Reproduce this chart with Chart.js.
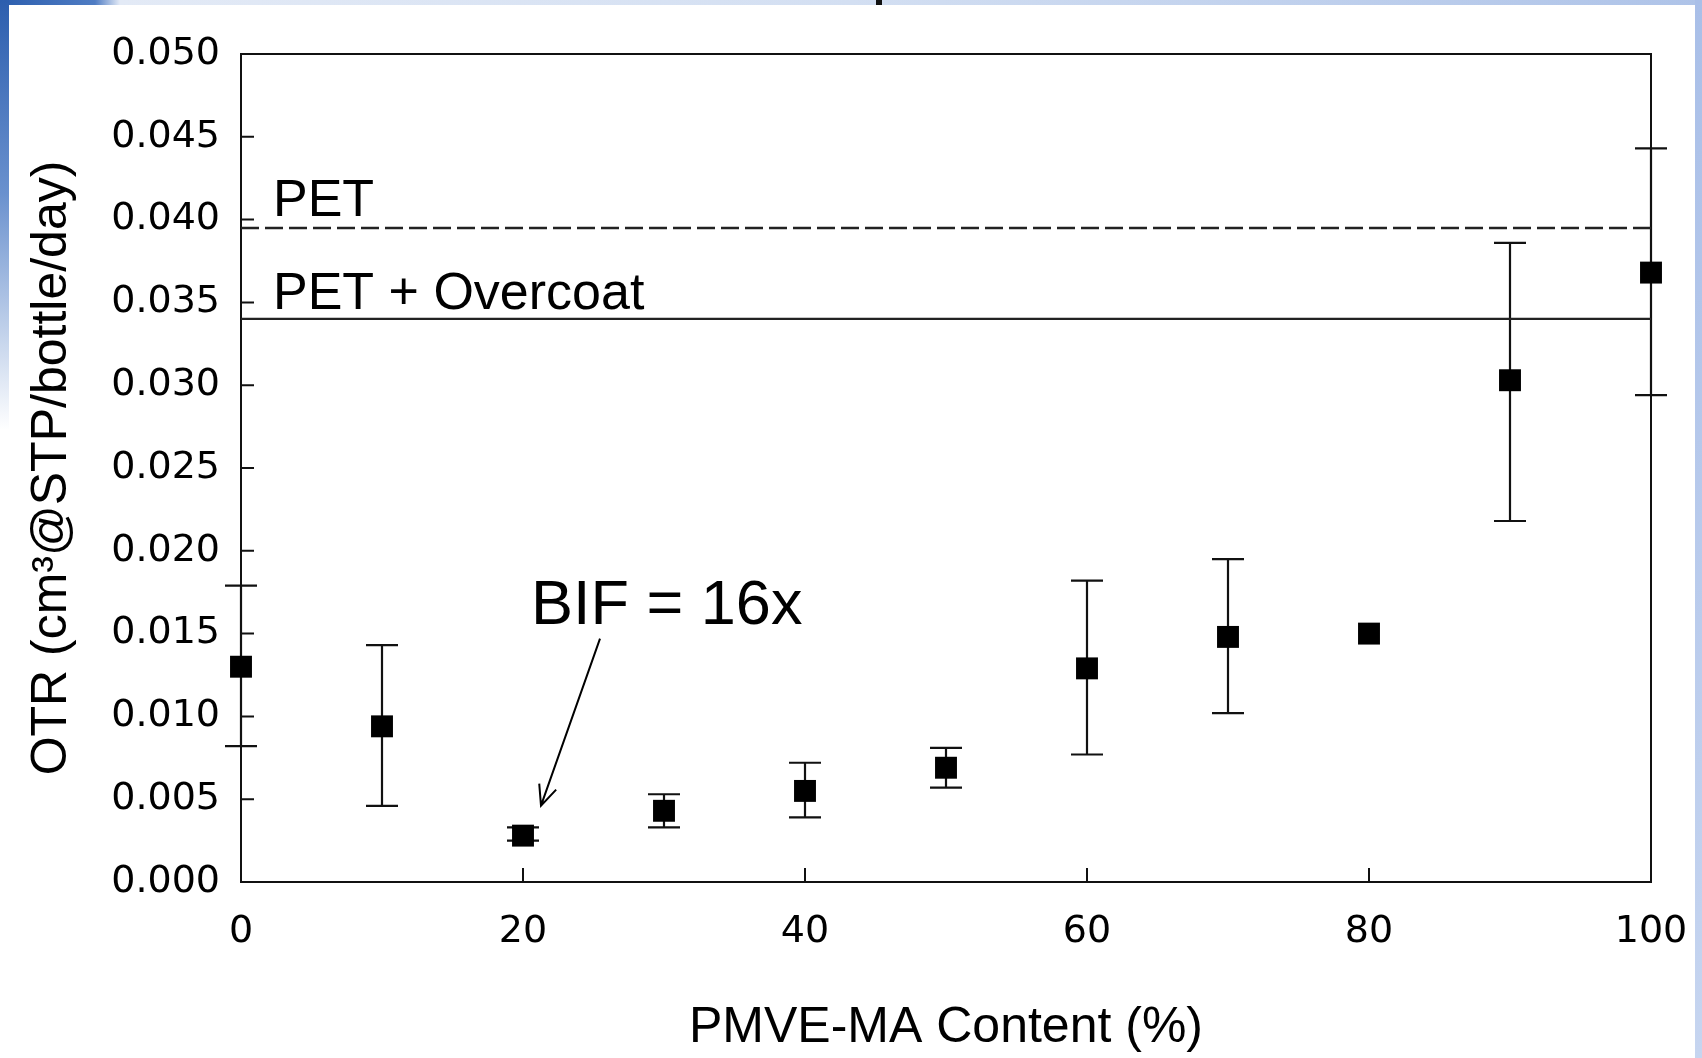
<!DOCTYPE html>
<html><head><meta charset="utf-8">
<script src="https://cdn.jsdelivr.net/npm/chart.js@4.4.0/dist/chart.umd.min.js"></script>
<style>
html,body{margin:0;padding:0;width:1702px;height:1058px;overflow:hidden;background:#fff;}
#wrap{position:absolute;left:0;top:0;width:1702px;height:1058px;}
.deco{position:absolute;}
</style></head><body>
<div class="deco" style="left:0;top:0;width:1702px;height:5px;background:linear-gradient(90deg,#2c5eae 0,#4f7cc3 95px,#e3eaf6 120px,#d3dff2 50%,#aec3e8 100%)"></div>
<div class="deco" style="left:0;top:0;width:9px;height:430px;background:linear-gradient(180deg,#2c5eae 0,#6a91ce 45%,rgba(255,255,255,0) 100%)"></div>
<div class="deco" style="left:1695px;top:0;width:7px;height:1058px;background:linear-gradient(180deg,#a9bfe8,#c6d5f0)"></div>
<div class="deco" style="left:876px;top:0;width:6px;height:5px;background:#111"></div>
<div id="wrap"><canvas id="c" width="1702" height="1058"></canvas></div>
<script>
// ---- data ----
const contentPct = [0, 10, 20, 30, 40, 50, 60, 70, 80, 90, 100];
const otrMean    = [0.0130, 0.0094, 0.0028, 0.0043, 0.0055, 0.0069, 0.0129, 0.0148, 0.0150, 0.0303, 0.0368];
const otrUpper   = [0.0179, 0.0143, 0.0033, 0.0053, 0.0072, 0.0081, 0.0182, 0.0195, null, 0.0386, 0.0443];
const otrLower   = [0.0082, 0.0046, 0.0025, 0.0033, 0.0039, 0.0057, 0.0077, 0.0102, null, 0.0218, 0.0294];
const petLevel = 0.0395;
const petOvercoatLevel = 0.0340;
const petLabel = 'PET';
const petOvercoatLabel = 'PET + Overcoat';
const bifLabel = 'BIF = 16x';
const bifIndex = 2;
const xTitle = 'PMVE-MA Content (%)';
const yTitle = 'OTR (cm\u00B3@STP/bottle/day)';
const xMin = 0, xMax = 100, xStep = 20;
const yMin = 0, yMax = 0.05, yStep = 0.005;

const INK = '#111';
const CAP = 16;

const frameAndTicks = {
  id: 'frameAndTicks',
  beforeDatasetsDraw(chart) {
    const {ctx, chartArea: a, scales: {x, y}} = chart;
    ctx.save();
    ctx.strokeStyle = INK;
    ctx.lineWidth = 2;
    ctx.strokeRect(a.left, a.top, a.right - a.left, a.bottom - a.top);
    ctx.beginPath();
    y.ticks.forEach(t => {
      const py = y.getPixelForValue(t.value);
      ctx.moveTo(a.left, py); ctx.lineTo(a.left + 13, py);
    });
    x.ticks.forEach(t => {
      const px = x.getPixelForValue(t.value);
      ctx.moveTo(px, a.bottom); ctx.lineTo(px, a.bottom - 14);
    });
    ctx.stroke();
    // error bars
    ctx.lineWidth = 2.2;
    ctx.beginPath();
    contentPct.forEach((c, i) => {
      if (otrUpper[i] == null) return;
      const px = x.getPixelForValue(c);
      const yt = y.getPixelForValue(otrUpper[i]);
      const yb = y.getPixelForValue(otrLower[i]);
      ctx.moveTo(px, yt); ctx.lineTo(px, yb);
      ctx.moveTo(px - CAP, yt); ctx.lineTo(px + CAP, yt);
      ctx.moveTo(px - CAP, yb); ctx.lineTo(px + CAP, yb);
    });
    ctx.stroke();
    ctx.restore();
  }
};

const annotations = {
  id: 'annotations',
  afterDraw(chart) {
    const {ctx, chartArea: a, scales: {x, y}} = chart;
    ctx.save();
    ctx.fillStyle = '#000';
    ctx.textAlign = 'left';
    ctx.textBaseline = 'alphabetic';
    ctx.font = '52px "Liberation Sans", Arial, sans-serif';
    ctx.fillText(petLabel, a.left + 32, y.getPixelForValue(petLevel) - 12);
    ctx.fillText(petOvercoatLabel, a.left + 32, y.getPixelForValue(petOvercoatLevel) - 10);
    // BIF label + arrow
    const px = x.getPixelForValue(contentPct[bifIndex]);
    const py = y.getPixelForValue(otrMean[bifIndex]);
    ctx.font = '63px "Liberation Sans", Arial, sans-serif';
    ctx.fillText(bifLabel, px + 8, py - 212);
    const tipX = px + 18, tipY = py - 30;
    const startX = px + 77, startY = py - 197;
    ctx.strokeStyle = '#000';
    ctx.lineWidth = 2;
    ctx.beginPath();
    ctx.moveTo(startX, startY); ctx.lineTo(tipX, tipY);
    const ang = Math.atan2(startY - tipY, startX - tipX);
    const len = 22, spread = 0.42;
    ctx.moveTo(tipX + len * Math.cos(ang - spread), tipY + len * Math.sin(ang - spread));
    ctx.lineTo(tipX, tipY);
    ctx.lineTo(tipX + len * Math.cos(ang + spread), tipY + len * Math.sin(ang + spread));
    ctx.stroke();
    ctx.restore();
  }
};

new Chart(document.getElementById('c'), {
  type: 'scatter',
  data: {
    datasets: [
      {
        label: 'OTR',
        data: contentPct.map((c, i) => ({x: c, y: otrMean[i]})),
        pointStyle: 'rect',
        pointRadius: 15.5,
        backgroundColor: '#000',
        borderWidth: 0,
        showLine: false,
        clip: false
      },
      {
        type: 'line',
        label: petLabel,
        data: [{x: xMin, y: petLevel}, {x: xMax, y: petLevel}],
        borderColor: '#222',
        borderWidth: 2.5,
        borderDash: [18, 6],
        pointRadius: 0,
        fill: false
      },
      {
        type: 'line',
        label: petOvercoatLabel,
        data: [{x: xMin, y: petOvercoatLevel}, {x: xMax, y: petOvercoatLevel}],
        borderColor: '#222',
        borderWidth: 2.2,
        pointRadius: 0,
        fill: false
      }
    ]
  },
  options: {
    responsive: false,
    devicePixelRatio: 1,
    animation: false,
    events: [],
    layout: {padding: {top: 54, right: 51, left: 0, bottom: 0}},
    plugins: {legend: {display: false}, tooltip: {enabled: false}},
    scales: {
      x: {
        type: 'linear', min: xMin, max: xMax,
        grid: {display: false, drawTicks: false},
        border: {display: false},
        ticks: {stepSize: xStep, color: '#000', padding: 27,
          font: {family: '"DejaVu Sans", sans-serif', size: 38}},
        title: {display: true, text: xTitle, color: '#000', padding: 0,
          font: {family: '"Liberation Sans", Arial, sans-serif', size: 50, lineHeight: 1.2}},
        afterFit(s) { s.height = 176; s.paddingLeft = 0; s.paddingRight = 0; }
      },
      y: {
        type: 'linear', min: yMin, max: yMax,
        grid: {display: false, drawTicks: false},
        border: {display: false},
        ticks: {stepSize: yStep, color: '#000', padding: 21,
          font: {family: '"DejaVu Sans", sans-serif', size: 38},
          callback: v => Number(v).toFixed(3)},
        title: {display: true, text: yTitle, color: '#000', padding: 22,
          font: {family: '"Liberation Sans", Arial, sans-serif', size: 50, lineHeight: 1.2}},
        afterFit(s) { s.width = 241; s.paddingTop = 0; s.paddingBottom = 0; }
      }
    }
  },
  plugins: [frameAndTicks, annotations]
});
</script>
</body></html>
